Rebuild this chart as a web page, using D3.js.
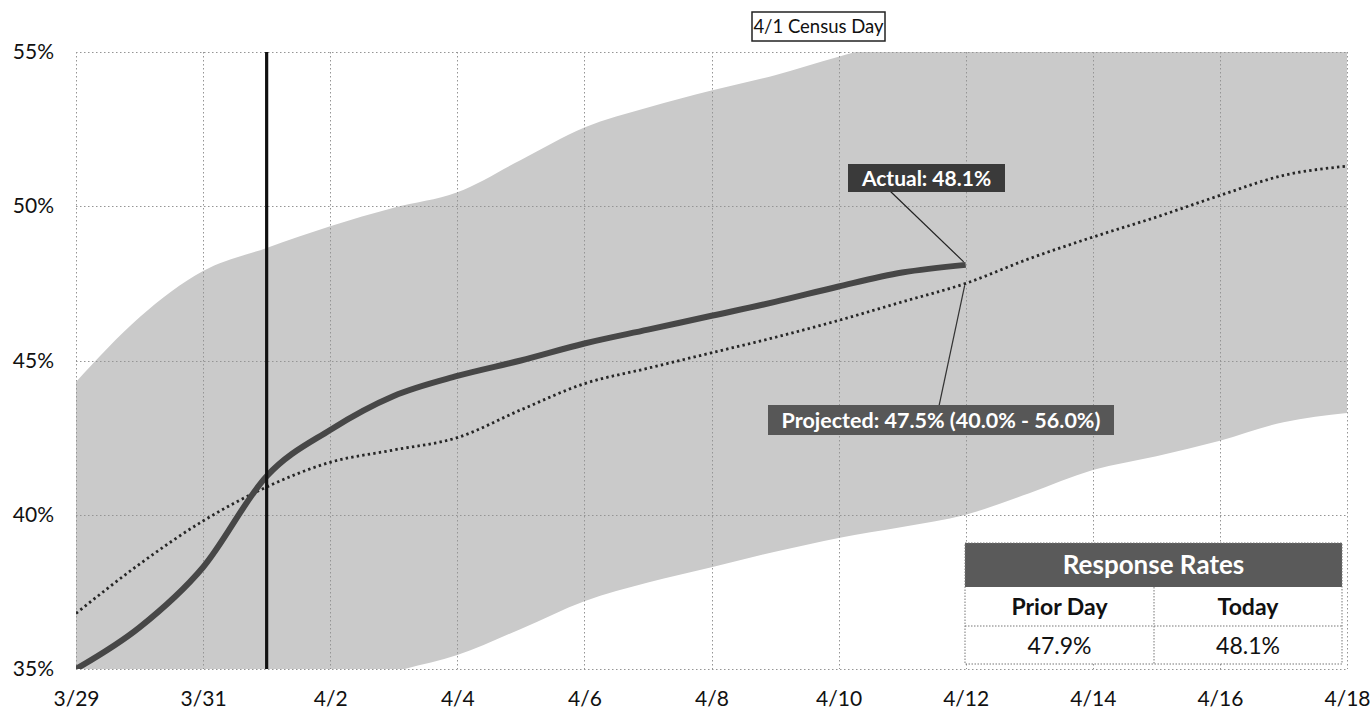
<!DOCTYPE html>
<html>
<head>
<meta charset="utf-8">
<script src="https://cdn.jsdelivr.net/npm/d3@7/dist/d3.min.js"></script>
<style>
  html, body { margin: 0; padding: 0; background: #fff; }
  svg { display: block; font-family: Lato, "Open Sans", sans-serif; }
</style>
</head>
<body>
<svg id="chart" width="1371" height="710"></svg>
<script>
// ---- data ----
const days = ["3/29","3/30","3/31","4/1","4/2","4/3","4/4","4/5","4/6","4/7","4/8",
              "4/9","4/10","4/11","4/12","4/13","4/14","4/15","4/16","4/17","4/18"];
const actual = [35.0, 36.35, 38.3, 41.25, 42.75, 43.85, 44.5, 45.0, 45.55, 46.0, 46.45,
                46.9, 47.4, 47.85, 48.1];
const projected = [36.8, 38.4, 39.8, 40.9, 41.7, 42.1, 42.5, 43.4, 44.25, 44.75, 45.25,
                   45.75, 46.3, 46.9, 47.5, 48.3, 49.0, 49.65, 50.35, 51.0, 51.3];
const lower = [30.5, 31.5, 32.5, 33.4, 34.2, 34.9, 35.45, 36.3, 37.2, 37.8, 38.3,
               38.8, 39.25, 39.6, 40.0, 40.7, 41.45, 41.9, 42.4, 43.0, 43.3];
const upper = [44.3, 46.4, 47.9, 48.65, 49.35, 49.95, 50.45, 51.5, 52.55, 53.2, 53.75,
               54.25, 54.85, 55.4, 56.0, 56.5, 57.0, 57.4, 57.8, 58.2, 58.5];
const xTickLabels = ["3/29","3/31","4/2","4/4","4/6","4/8","4/10","4/12","4/14","4/16","4/18"];
const yTicks = [35, 40, 45, 50, 55];
const censusDay = "4/1";
const titleText = "4/1 Census Day";
const tableTitle = "Response Rates";
const tableHeaders = ["Prior Day", "Today"];
const priorDayValue = 47.9;

// ---- layout ----
const svg = d3.select("#chart");
const L = 76, R = 1347, T = 52, B = 669;
const x = d3.scaleLinear().domain([0, days.length - 1]).range([L, R]);
const y = d3.scaleLinear().domain([35, 55]).range([B, T]);
const idx = d => days.indexOf(d);
const pct = v => v.toFixed(1) + "%";

svg.append("defs").append("clipPath").attr("id", "plotClip")
  .append("rect").attr("x", L).attr("y", T).attr("width", R - L).attr("height", B - T);

// band
const bandData = days.map((d, i) => ({ i, lo: lower[i], hi: upper[i] }));
svg.append("path")
  .datum(bandData)
  .attr("clip-path", "url(#plotClip)")
  .attr("fill", "#cacaca")
  .attr("d", d3.area().curve(d3.curveMonotoneX)
    .x(d => x(d.i)).y0(d => y(d.lo)).y1(d => y(d.hi)));

// gridlines
const grid = svg.append("g").attr("stroke", "#959595").attr("stroke-width", 1)
  .attr("stroke-dasharray", "1.5,2.5").attr("fill", "none");
grid.selectAll("line.h").data(yTicks).join("line")
  .attr("x1", L).attr("x2", R).attr("y1", d => Math.round(y(d)) + 0.5).attr("y2", d => Math.round(y(d)) + 0.5);
grid.selectAll("line.v").data(xTickLabels).join("line")
  .attr("y1", T).attr("y2", B).attr("x1", d => Math.round(x(idx(d))) + 0.5).attr("x2", d => Math.round(x(idx(d))) + 0.5);

// axes (text only)
const yAxis = d3.axisLeft(y).tickValues(yTicks).tickFormat(d => d + "%").tickSize(0).tickPadding(22);
svg.append("g").attr("transform", `translate(${L},0)`).call(yAxis)
  .call(g => g.select(".domain").remove())
  .call(g => g.selectAll("text").attr("font-size", 21).attr("fill", "#111").attr("font-family", "Lato, sans-serif"));

const xAxis = d3.axisBottom(x).tickValues(xTickLabels.map(idx)).tickFormat(i => days[i]).tickSize(0).tickPadding(22);
svg.append("g").attr("transform", `translate(0,${B})`).call(xAxis)
  .call(g => g.select(".domain").remove())
  .call(g => g.selectAll("text").attr("font-size", 21).attr("fill", "#111").attr("font-family", "Lato, sans-serif"));

// projected line
svg.append("path")
  .datum(projected)
  .attr("clip-path", "url(#plotClip)")
  .attr("fill", "none").attr("stroke", "#262626").attr("stroke-width", 2.8)
  .attr("stroke-dasharray", "2.4,3.2")
  .attr("d", d3.line().curve(d3.curveMonotoneX).x((d, i) => x(i)).y(d => y(d)));

// actual line
svg.append("path")
  .datum(actual)
  .attr("clip-path", "url(#plotClip)")
  .attr("fill", "none").attr("stroke", "#474747").attr("stroke-width", 6)
  .attr("d", d3.line().curve(d3.curveMonotoneX).x((d, i) => x(i)).y(d => y(d)));

// census day vertical line
svg.append("line")
  .attr("x1", x(idx(censusDay))).attr("x2", x(idx(censusDay)))
  .attr("y1", T).attr("y2", B)
  .attr("stroke", "#111").attr("stroke-width", 3.2);

// title box
const tg = svg.append("g");
tg.append("rect").attr("x", 752).attr("y", 12).attr("width", 133).attr("height", 29)
  .attr("fill", "#fff").attr("stroke", "#222").attr("stroke-width", 1.5);
tg.append("text").attr("x", 818.5).attr("y", 33).attr("text-anchor", "middle")
  .attr("font-size", 18.5).attr("fill", "#111").text(titleText);

// data labels
const lastI = actual.length - 1;
const ax = x(lastI), ay = y(actual[lastI]);
const px = x(lastI), py = y(projected[lastI]);

svg.append("line").attr("x1", 890).attr("y1", 191).attr("x2", ax - 2).attr("y2", ay - 3)
  .attr("stroke", "#222").attr("stroke-width", 1.2);
svg.append("line").attr("x1", px - 1).attr("y1", py + 2).attr("x2", 939).attr("y2", 406)
  .attr("stroke", "#333").attr("stroke-width", 1.2);

svg.append("rect").attr("x", 848).attr("y", 164).attr("width", 157).attr("height", 28).attr("fill", "#3a3a3a");
svg.append("text").attr("x", 926.5).attr("y", 186).attr("text-anchor", "middle")
  .attr("font-size", 21).attr("font-weight", "bold").attr("fill", "#fff")
  .text("Actual: " + pct(actual[lastI]));

svg.append("rect").attr("x", 768).attr("y", 405).attr("width", 346).attr("height", 30).attr("fill", "#575757");
svg.append("text").attr("x", 941).attr("y", 428).attr("text-anchor", "middle")
  .attr("font-size", 21.5).attr("font-weight", "bold").attr("fill", "#fff")
  .text(`Projected: ${pct(projected[lastI])} (${pct(lower[lastI])} - ${pct(upper[lastI])})`);

// table
const tb = svg.append("g");
const tL = 965, tR = 1342, tM = 1154, r0 = 543, r1 = 587, r2 = 626, r3 = 664;
tb.append("rect").attr("x", tL).attr("y", r0).attr("width", tR - tL).attr("height", r3 - r0)
  .attr("fill", "#fff");
tb.append("rect").attr("x", tL).attr("y", r0).attr("width", tR - tL).attr("height", r1 - r0)
  .attr("fill", "#5a5a5a");
const tLines = tb.append("g").attr("stroke", "#777").attr("stroke-width", 1).attr("stroke-dasharray", "1.5,1.5");
tLines.append("rect").attr("x", tL).attr("y", r0).attr("width", tR - tL).attr("height", r3 - r0).attr("fill", "none");
tLines.append("line").attr("x1", tL).attr("x2", tR).attr("y1", r2).attr("y2", r2);
tLines.append("line").attr("x1", tM).attr("x2", tM).attr("y1", r1).attr("y2", r3);
tb.append("text").attr("x", (tL + tR) / 2).attr("y", r0 + 31).attr("text-anchor", "middle")
  .attr("font-size", 26).attr("font-weight", "bold").attr("fill", "#fff").text(tableTitle);
const colC = [(tL + tM) / 2, (tM + tR) / 2];
const tableValues = [priorDayValue, actual[lastI]];
tb.selectAll("text.h").data(tableHeaders).join("text")
  .attr("x", (d, i) => colC[i]).attr("y", r1 + 28).attr("text-anchor", "middle")
  .attr("font-size", 23).attr("font-weight", "bold").attr("fill", "#111").text(d => d);
tb.selectAll("text.v").data(tableValues).join("text")
  .attr("x", (d, i) => colC[i]).attr("y", r2 + 28).attr("text-anchor", "middle")
  .attr("font-size", 23).attr("fill", "#111").text(d => pct(d));
</script>
</body>
</html>
